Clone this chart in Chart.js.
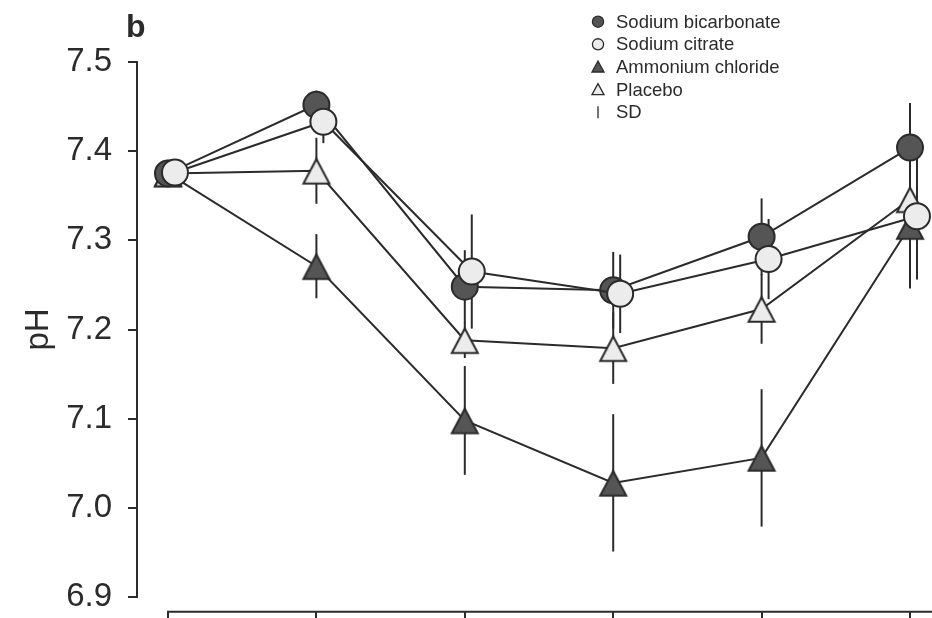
<!DOCTYPE html>
<html>
<head>
<meta charset="utf-8">
<script src="https://cdn.jsdelivr.net/npm/chart.js@4/dist/chart.umd.min.js"></script>
<style>
html,body{margin:0;padding:0;background:#fff;}
#wrap{width:932px;height:618px;position:relative;}
</style>
</head>
<body>
<div id="wrap"><canvas id="c" width="932" height="618"></canvas></div>
<script>
// ---- data ----
const timePoints = [0, 1, 2, 3, 4, 5];
const seriesNames = ['Sodium bicarbonate', 'Sodium citrate', 'Ammonium chloride', 'Placebo'];
const sdLabel = 'SD';
const bicarbMean   = [7.375, 7.452, 7.248, 7.244, 7.304, 7.404];
const bicarbSD     = [0.005, 0.016, 0.041, 0.043, 0.043, 0.050];
const citrateMean  = [7.376, 7.433, 7.265, 7.240, 7.279, 7.327];
const citrateSD    = [0.005, 0.024, 0.064, 0.044, 0.045, 0.071];
const ammoniumMean = [7.375, 7.271, 7.098, 7.028, 7.056, 7.316];
const ammoniumSD   = [0.005, 0.036, 0.061, 0.077, 0.077, 0.070];
const placeboMean  = [7.375, 7.378, 7.188, 7.179, 7.223, 7.346];
const placeboSD    = [0.005, 0.037, 0.020, 0.040, 0.039, 0.040];
const yTickValues  = [6.9, 7.0, 7.1, 7.2, 7.3, 7.4, 7.5];
const yTickLabels  = ['6.9', '7.0', '7.1', '7.2', '7.3', '7.4', '7.5'];
const yTitle = 'pH';
const panelLabel = 'b';

// ---- style ----
const FONT = "'Liberation Sans', Arial, Helvetica, sans-serif";
const INK = '#2b2b2b';
const DARK = '#555555';
const LIGHT = '#ececec';
const CIT_OFF = 0.047; // small horizontal dodge for the open circles

function triangleImage(fill) {
  const c = document.createElement('canvas');
  c.width = 34; c.height = 34;
  const g = c.getContext('2d');
  const cx = 17, cy = 17.5, hw = 13, hh = 12.3;
  g.beginPath();
  g.moveTo(cx, cy - hh);
  g.lineTo(cx + hw, cy + hh);
  g.lineTo(cx - hw, cy + hh);
  g.closePath();
  g.fillStyle = fill; g.fill();
  g.lineWidth = 2; g.strokeStyle = INK; g.lineJoin = 'miter'; g.stroke();
  return c;
}
const triDark = triangleImage(DARK);
const triLight = triangleImage(LIGHT);

function pts(means, off) { return timePoints.map((t, i) => ({x: t + off, y: means[i]})); }

const common = {borderColor: INK, borderWidth: 2, pointBorderColor: INK, pointBorderWidth: 2,
  pointHoverRadius: 13, clip: false, tension: 0, fill: false};

const datasets = [
  Object.assign({}, common, {label: seriesNames[1], data: pts(citrateMean, CIT_OFF), sd: citrateSD,
    pointStyle: 'circle', pointRadius: 13, pointBackgroundColor: LIGHT, order: 0}),
  Object.assign({}, common, {label: seriesNames[0], data: pts(bicarbMean, 0), sd: bicarbSD,
    pointStyle: 'circle', pointRadius: 13, pointBackgroundColor: DARK, order: 1}),
  Object.assign({}, common, {label: seriesNames[3], data: pts(placeboMean, 0), sd: placeboSD,
    pointStyle: triLight, pointRadius: 14, pointBackgroundColor: LIGHT, order: 2}),
  Object.assign({}, common, {label: seriesNames[2], data: pts(ammoniumMean, 0), sd: ammoniumSD,
    pointStyle: triDark, pointRadius: 14, pointBackgroundColor: DARK, order: 3})
];

const errorBars = {
  id: 'errorBars',
  beforeDatasetsDraw(chart) {
    const ctx = chart.ctx, ys = chart.scales.y;
    ctx.save();
    ctx.strokeStyle = INK; ctx.lineWidth = 2;
    chart.data.datasets.forEach((ds, di) => {
      const meta = chart.getDatasetMeta(di);
      ds.data.forEach((p, i) => {
        const el = meta.data[i];
        const x = el.x;
        const y1 = ys.getPixelForValue(p.y + ds.sd[i]);
        const y2 = ys.getPixelForValue(p.y - ds.sd[i]);
        ctx.beginPath(); ctx.moveTo(x, y1); ctx.lineTo(x, y2); ctx.stroke();
      });
    });
    ctx.restore();
  }
};

const decorations = {
  id: 'decorations',
  afterDraw(chart) {
    const ctx = chart.ctx, xs = chart.scales.x;
    ctx.save();
    // detached x axis
    const axY = 611.7;
    ctx.strokeStyle = INK; ctx.lineWidth = 2;
    ctx.beginPath();
    ctx.moveTo(xs.getPixelForValue(timePoints[0]) - 1, axY);
    ctx.lineTo(chart.width, axY);
    ctx.stroke();
    timePoints.forEach(t => {
      const x = Math.round(xs.getPixelForValue(t));
      ctx.beginPath(); ctx.moveTo(x, axY); ctx.lineTo(x, chart.height); ctx.stroke();
    });
    // panel label
    ctx.fillStyle = INK;
    ctx.font = 'bold 32px ' + FONT;
    ctx.textBaseline = 'alphabetic'; ctx.textAlign = 'left';
    ctx.fillText(panelLabel, 126, 36.7);
    // legend
    const labels = [seriesNames[0], seriesNames[1], seriesNames[2], seriesNames[3], sdLabel];
    const mx = 598, tx = 616, y0 = 21.7, dy = 22.65;
    ctx.font = '18.5px ' + FONT;
    ctx.textBaseline = 'middle';
    labels.forEach((lab, i) => {
      const y = y0 + i * dy;
      ctx.lineWidth = 1.3; ctx.strokeStyle = INK;
      if (i === 0 || i === 1) {
        ctx.beginPath(); ctx.arc(mx, y, 5.6, 0, Math.PI * 2);
        ctx.fillStyle = i === 0 ? DARK : LIGHT; ctx.fill(); ctx.stroke();
      } else if (i === 2 || i === 3) {
        ctx.beginPath();
        ctx.moveTo(mx, y - 6); ctx.lineTo(mx + 6, y + 5); ctx.lineTo(mx - 6, y + 5); ctx.closePath();
        ctx.fillStyle = i === 2 ? DARK : LIGHT; ctx.fill(); ctx.stroke();
      } else {
        ctx.beginPath(); ctx.moveTo(mx, y - 6); ctx.lineTo(mx, y + 6); ctx.stroke();
      }
      ctx.fillStyle = INK;
      ctx.fillText(lab, tx, y + 1);
    });
    ctx.restore();
  }
};

new Chart(document.getElementById('c'), {
  type: 'line',
  data: {datasets},
  options: {
    responsive: false, animation: false, devicePixelRatio: 1,
    layout: {autoPadding: false, padding: {top: 62, bottom: 21, left: 0, right: 0}},
    plugins: {legend: {display: false}, tooltip: {enabled: false}},
    scales: {
      x: {type: 'linear', min: -0.2089, max: 5.1482, display: false},
      y: {
        type: 'linear', min: 6.9, max: 7.5,
        afterFit(s) { s.width = 137; s.paddingTop = 0; s.paddingBottom = 0; },
        afterBuildTicks(s) { s.ticks = yTickValues.map(v => ({value: v})); },
        ticks: {callback: (v, i) => yTickLabels[i], color: INK, font: {family: FONT, size: 33}, padding: 16},
        grid: {display: true, drawOnChartArea: false, drawTicks: true, tickLength: 9, color: INK, lineWidth: 2},
        border: {display: true, color: INK, width: 2},
        title: {display: true, text: yTitle, color: INK, font: {family: FONT, size: 33}, padding: {top: 19, bottom: 0}}
      }
    }
  },
  plugins: [errorBars, decorations]
});
</script>
</body>
</html>
